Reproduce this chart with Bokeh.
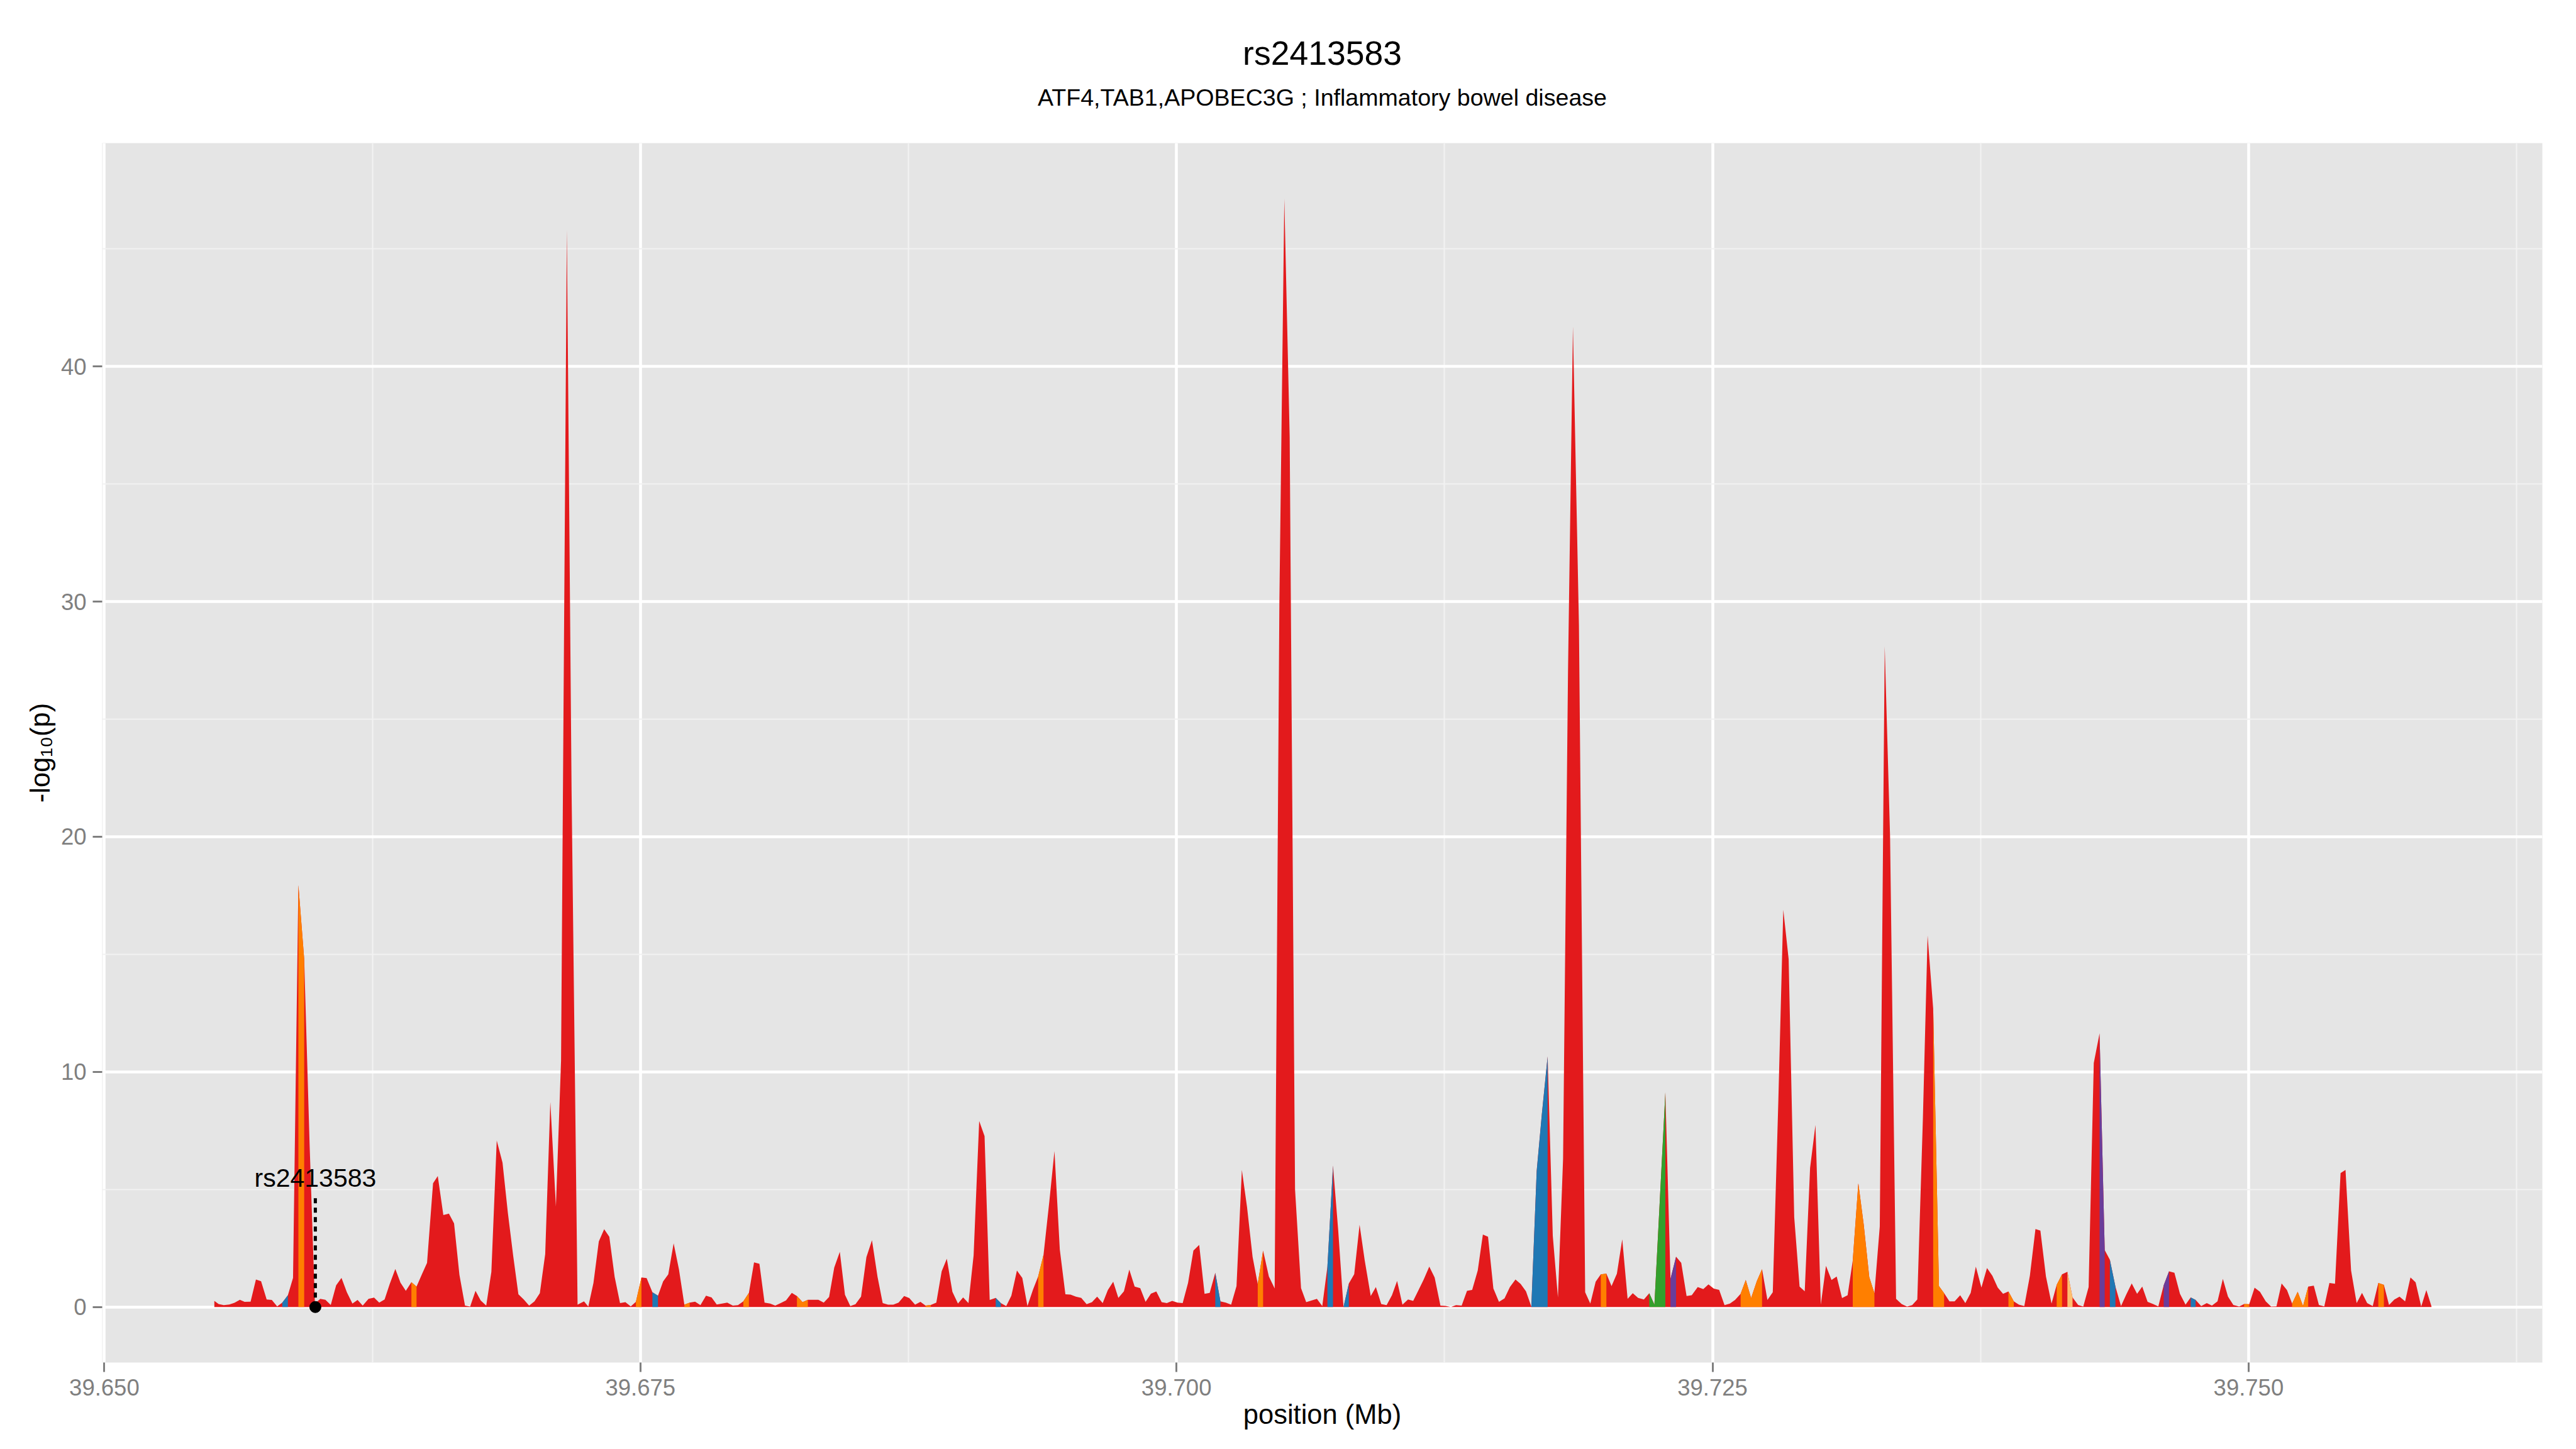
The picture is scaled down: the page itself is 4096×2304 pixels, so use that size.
from bokeh.plotting import figure
from bokeh.models import (ColumnDataSource, FixedTicker, Range1d, Title,
                          NumeralTickFormatter)
from bokeh.embed import file_html
from bokeh.resources import INLINE
from bokeh.core.properties import value

# ---------------- data ----------------
pos = [
    39.65513, 39.65533, 39.65557, 39.65583, 39.65607, 39.65632, 39.65654, 39.65682, 39.65707, 39.65731,
    39.65757, 39.65781, 39.65806, 39.65830, 39.65856, 39.65880, 39.65905, 39.65932, 39.65957, 39.65982,
    39.66007, 39.66031, 39.66056, 39.66081, 39.66106, 39.66131, 39.66157, 39.66181, 39.66205, 39.66232,
    39.66258, 39.66282, 39.66307, 39.66331, 39.66357, 39.66381, 39.66406, 39.66432, 39.66456, 39.66480,
    39.66505, 39.66533, 39.66555, 39.66581, 39.66607, 39.66631, 39.66656, 39.66682, 39.66706, 39.66731,
    39.66755, 39.66781, 39.66805, 39.66830, 39.66857, 39.66882, 39.66907, 39.66931, 39.66956, 39.66981,
    39.67006, 39.67031, 39.67056, 39.67080, 39.67106, 39.67130, 39.67157, 39.67179, 39.67207,
    39.67237, 39.67257, 39.67281, 39.67306, 39.67331, 39.67355, 39.67380, 39.67405, 39.67430, 39.67455,
    39.67479, 39.67505, 39.67529, 39.67556, 39.67582, 39.67606, 39.67630, 39.67655, 39.67680, 39.67705,
    39.67730, 39.67755, 39.67780, 39.67806, 39.67832, 39.67856, 39.67881, 39.67905, 39.67931, 39.67955,
    39.67980, 39.68006, 39.68030, 39.68055, 39.68079, 39.68105, 39.68129, 39.68154, 39.68179, 39.68206,
    39.68230, 39.68256, 39.68281, 39.68305, 39.68330, 39.68355, 39.68380, 39.68404, 39.68430, 39.68454,
    39.68479, 39.68503, 39.68529, 39.68554, 39.68580, 39.68606, 39.68630, 39.68655, 39.68679, 39.68704,
    39.68730, 39.68754, 39.68781, 39.68806, 39.68830, 39.68854, 39.68880, 39.68905, 39.68929, 39.68955,
    39.68981, 39.69005, 39.69030, 39.69054, 39.69080, 39.69105, 39.69129, 39.69157, 39.69181, 39.69206,
    39.69230, 39.69256, 39.69281, 39.69305, 39.69331, 39.69355, 39.69380, 39.69407, 39.69431, 39.69456,
    39.69482, 39.69506, 39.69531, 39.69556, 39.69581, 39.69606, 39.69630, 39.69656, 39.69680, 39.69705,
    39.69729, 39.69755, 39.69780, 39.69805, 39.69831, 39.69856, 39.69881, 39.69906, 39.69931, 39.69955,
    39.69980, 39.70005, 39.70029, 39.70054, 39.70079, 39.70106, 39.70131, 39.70155, 39.70181, 39.70205,
    39.70230, 39.70255, 39.70280, 39.70305, 39.70329, 39.70355, 39.70379, 39.70404, 39.70431, 39.70458,
    39.70480, 39.70503, 39.70528, 39.70553, 39.70581, 39.70605, 39.70631, 39.70655, 39.70680,
    39.70704, 39.70730, 39.70754, 39.70779, 39.70804, 39.70829, 39.70854, 39.70878, 39.70906, 39.70930,
    39.70955, 39.70980, 39.71005, 39.71029, 39.71054, 39.71080, 39.71104, 39.71129, 39.71153, 39.71179,
    39.71204, 39.71231, 39.71255, 39.71280, 39.71304, 39.71330, 39.71355, 39.71379, 39.71405, 39.71429,
    39.71453, 39.71478, 39.71504, 39.71530, 39.71555, 39.71581, 39.71605, 39.71630, 39.71655, 39.71680,
    39.71704, 39.71731, 39.71755, 39.71779, 39.71803, 39.71826, 39.71849, 39.71877, 39.71906, 39.71930,
    39.71955, 39.71979, 39.72005, 39.72029, 39.72054, 39.72079, 39.72104, 39.72128, 39.72153, 39.72180,
    39.72205, 39.72229, 39.72255, 39.72280, 39.72304, 39.72330, 39.72354, 39.72379, 39.72403,
    39.72431, 39.72457, 39.72481, 39.72506, 39.72531, 39.72556, 39.72581, 39.72605, 39.72631, 39.72655,
    39.72680, 39.72707, 39.72731, 39.72756, 39.72781, 39.72807, 39.72830, 39.72855, 39.72881, 39.72906,
    39.72930, 39.72955, 39.72980, 39.73005, 39.73029, 39.73055, 39.73079, 39.73104, 39.73130, 39.73154,
    39.73180, 39.73205, 39.73231, 39.73255, 39.73280, 39.73303, 39.73328, 39.73356, 39.73382, 39.73407,
    39.73431, 39.73455, 39.73481, 39.73503, 39.73529, 39.73556, 39.73580, 39.73605, 39.73629, 39.73655,
    39.73679, 39.73704, 39.73728, 39.73754, 39.73780, 39.73805, 39.73830, 39.73855, 39.73880, 39.73905,
    39.73929, 39.73954, 39.73980, 39.74006, 39.74029, 39.74055, 39.74081, 39.74105, 39.74130,
    39.74155, 39.74179, 39.74205, 39.74229, 39.74254, 39.74278, 39.74305, 39.74329, 39.74353, 39.74379,
    39.74405, 39.74430, 39.74455, 39.74480, 39.74504, 39.74529, 39.74555, 39.74579, 39.74604, 39.74629,
    39.74654, 39.74680, 39.74706, 39.74730, 39.74753, 39.74779, 39.74805, 39.74829, 39.74855, 39.74880,
    39.74904, 39.74929, 39.74956, 39.74979, 39.75003, 39.75028, 39.75053, 39.75080, 39.75105, 39.75130,
    39.75154, 39.75179, 39.75203, 39.75229, 39.75254, 39.75278, 39.75304, 39.75328, 39.75353, 39.75377,
    39.75403, 39.75429, 39.75452, 39.75478, 39.75504, 39.75529, 39.75553, 39.75579, 39.75605, 39.75631,
    39.75655, 39.75680, 39.75704, 39.75730, 39.75755, 39.75779, 39.75805, 39.75829, 39.75853,
]

logp = [
    0.26, 0.13, 0.08, 0.11, 0.18, 0.31, 0.22, 0.23, 1.17, 1.10,
    0.32, 0.30, 0.03, 0.19, 0.50, 1.24, 17.95, 14.80, 7.00, 0.15,
    0.35, 0.31, 0.09, 0.92, 1.24, 0.63, 0.15, 0.30, 0.06, 0.35,
    0.40, 0.19, 0.32, 0.98, 1.62, 1.04, 0.69, 1.06, 0.87, 1.37,
    1.88, 5.26, 5.57, 3.91, 3.97, 3.56, 1.37, 0.06, 0.02, 0.69,
    0.28, 0.06, 1.50, 7.08, 6.14, 4.00, 2.16, 0.54, 0.32, 0.06,
    0.24, 0.59, 2.25, 8.72, 4.27, 10.50, 45.80, 22.00, 0.10,
    0.24, 0.02, 1.02, 2.79, 3.31, 2.99, 1.28, 0.17, 0.21, 0.03,
    0.22, 1.26, 1.23, 0.63, 0.48, 1.09, 1.39, 2.71, 1.59, 0.10,
    0.19, 0.23, 0.08, 0.48, 0.41, 0.11, 0.15, 0.19, 0.06, 0.08,
    0.24, 0.60, 1.90, 1.84, 0.19, 0.15, 0.06, 0.17, 0.28, 0.60,
    0.47, 0.21, 0.31, 0.31, 0.31, 0.19, 0.43, 1.68, 2.35, 0.52,
    0.04, 0.12, 0.44, 2.12, 2.84, 1.28, 0.17, 0.10, 0.10, 0.19,
    0.47, 0.38, 0.10, 0.22, 0.06, 0.09, 0.19, 1.52, 2.05, 0.65,
    0.15, 0.41, 0.17, 2.20, 7.91, 7.27, 0.30, 0.39, 0.17, 0.04,
    0.48, 1.55, 1.24, 0.04, 0.74, 1.30, 2.22, 4.48, 6.63, 2.44,
    0.54, 0.53, 0.44, 0.39, 0.12, 0.21, 0.44, 0.17, 0.72, 1.08,
    0.39, 0.67, 1.59, 0.87, 0.80, 0.22, 0.57, 0.66, 0.21, 0.17,
    0.26, 0.19, 0.17, 1.02, 2.40, 2.64, 0.56, 0.60, 1.46, 0.24,
    0.19, 0.10, 0.89, 5.83, 4.26, 2.13, 0.98, 2.40, 1.30, 0.79,
    30.00, 47.13, 37.00, 5.00, 0.80, 0.21, 0.28, 0.35, 0.04,
    1.72, 6.02, 3.30, 0.00, 1.00, 1.40, 3.50, 1.98, 0.47, 0.85,
    0.13, 0.08, 0.50, 1.11, 0.10, 0.32, 0.26, 0.72, 1.17, 1.72,
    1.26, 0.06, 0.05, 0.00, 0.08, 0.06, 0.69, 0.73, 1.55, 3.08,
    2.99, 0.79, 0.22, 0.37, 0.85, 1.17, 0.98, 0.67, 0.02, 5.79,
    8.20, 10.66, 3.03, 0.41, 6.30, 27.00, 41.70, 29.00, 0.63, 0.15,
    1.08, 1.39, 1.42, 0.89, 1.42, 2.88, 0.35, 0.59, 0.39, 0.32,
    0.59, 0.10, 4.70, 9.13, 1.20, 2.14, 1.88, 0.47, 0.50,
    0.85, 0.76, 0.96, 0.78, 0.73, 0.08, 0.15, 0.30, 0.56, 1.15,
    0.38, 1.11, 1.61, 0.30, 0.63, 8.80, 16.90, 14.80, 3.82, 0.87,
    0.67, 5.92, 7.74, 0.10, 1.75, 1.15, 1.30, 0.38, 0.50, 1.98,
    5.26, 3.51, 1.27, 0.59, 3.43, 28.10, 20.00, 0.35, 0.13, 0.02,
    0.08, 0.32, 8.00, 15.80, 12.70, 0.89, 0.59, 0.24, 0.24, 0.50,
    0.17, 0.60, 1.72, 0.83, 1.66, 1.33, 0.83, 0.56, 0.66, 0.24,
    0.10, 0.04, 1.33, 3.32, 3.25, 1.30, 0.15, 0.94, 1.39,
    1.50, 0.41, 0.09, 0.02, 0.85, 10.38, 11.64, 2.42, 2.01, 0.87,
    0.04, 0.54, 1.00, 0.56, 0.87, 0.22, 0.13, 0.03, 0.92, 1.52,
    1.46, 0.56, 0.10, 0.41, 0.30, 0.04, 0.17, 0.06, 0.24, 1.20,
    0.44, 0.09, 0.02, 0.13, 0.12, 0.82, 0.65, 0.24, 0.02, 0.03,
    1.00, 0.72, 0.15, 0.65, 0.04, 0.87, 0.91, 0.09, 0.03, 1.02,
    0.99, 5.70, 5.83, 1.55, 0.17, 0.60, 0.17, 0.04, 1.02, 0.94,
    0.09, 0.32, 0.44, 0.24, 1.26, 1.05, 0.02, 0.72, 0.03,
]

# LD group of the stretch that starts at each position (default "c0")
group_starts = {
    "c1": [39.65905, 39.66432, 39.67479, 39.67705, 39.67980, 39.68230, 39.68256, 39.68830,
           39.69355, 39.70379, 39.71979, 39.72631, 39.72655, 39.72680, 39.72707, 39.73154,
           39.73180, 39.73205, 39.73231, 39.73529, 39.73556, 39.73880, 39.74105, 39.74979,
           39.75203, 39.75229, 39.75254, 39.75605],
    "c2": [39.65830, 39.67556, 39.69157, 39.70181, 39.70704, 39.70779, 39.71655, 39.71680,
           39.71704, 39.74353, 39.74730],
    "c3": [39.72205, 39.72229, 39.72255],
    "c4": [39.72304, 39.74305, 39.74604],
    "c5": [39.74155],
}

snp_name = "rs2413583"
snp_pos = 39.65984
title_text = "rs2413583"
subtitle_text = "ATF4,TAB1,APOBEC3G ; Inflammatory bowel disease"
x_ticks = [39.650, 39.675, 39.700, 39.725, 39.750]
x_minor = [39.6375, 39.6625, 39.6875, 39.7125, 39.7375, 39.7625]
y_ticks = [0, 10, 20, 30, 40]
y_minor = [-5, 5, 15, 25, 35, 45]

# ---------------- styling ----------------
palette = {"c0": "#E31A1C", "c1": "#FF7F00", "c2": "#1F78B4",
           "c3": "#33A02C", "c4": "#6A3D9A", "c5": "#FDBF6F"}
FONT = "Liberation Sans"

grp = ["c0"] * len(pos)
lookup = {round(v, 5): k for k, vs in group_starts.items() for v in vs}
for i, xv in enumerate(pos):
    if round(xv, 5) in lookup:
        grp[i] = lookup[round(xv, 5)]

W, H = 4096, 2304
p = figure(width=W, height=H, output_backend="svg", toolbar_location=None,
           x_range=Range1d(39.6499, 39.7637), y_range=Range1d(-2.36, 49.5),
           min_border_left=162, min_border_right=54, min_border_top=227,
           min_border_bottom=138, background_fill_color="#E5E5E5",
           border_fill_color="white", outline_line_color=None)
p.title = None

# base area
p.varea(x=pos, y1=[0] * len(pos), y2=logp, fill_color=palette["c0"])

# coloured stretches
xs_list, ys_list, cols = [], [], []
n = len(pos)
i = 0
while i < n - 1:
    g = grp[i]
    if g == "c0":
        i += 1
        continue
    j = i
    while j + 1 < n - 1 and grp[j + 1] == g:
        j += 1
    xs_list.append([pos[i]] + pos[i:j + 2] + [pos[j + 1]])
    ys_list.append([0] + logp[i:j + 2] + [0])
    cols.append(palette[g])
    i = j + 1
src = ColumnDataSource(dict(xs=xs_list, ys=ys_list, c=cols))
p.patches(xs="xs", ys="ys", fill_color="c", line_color=None, source=src)

# SNP annotation
p.segment(x0=[snp_pos], y0=[0], x1=[snp_pos], y1=[4.71], line_color="black",
          line_width=5, line_dash="8 7")
p.scatter(x=[snp_pos], y=[0], size=18, fill_color="black", line_color="black")
p.text(x=[snp_pos], y=[5.50], text=[snp_name], text_align="center",
       text_baseline="alphabetic", text_font=value(FONT), text_font_size="41px",
       text_color="black")

# axes / grid
for ax, ticks, minor in ((p.xaxis[0], x_ticks, x_minor), (p.yaxis[0], y_ticks, y_minor)):
    ax.ticker = FixedTicker(ticks=ticks, minor_ticks=minor)
    ax.axis_line_color = None
    ax.major_tick_line_color = "#7F7F7F"
    ax.major_tick_line_width = 3
    ax.major_tick_out = 15
    ax.major_tick_in = 0
    ax.minor_tick_line_color = None
    ax.major_label_text_color = "#7F7F7F"
    ax.major_label_text_font = FONT
    ax.major_label_text_font_size = "36.5px"
    ax.axis_label_text_font = FONT
    ax.axis_label_text_font_size = "43.5px"
    ax.axis_label_text_font_style = "normal"
    ax.axis_label_text_color = "black"

p.xaxis[0].formatter = NumeralTickFormatter(format="0.000")
p.xaxis[0].axis_label = "position (Mb)"
p.yaxis[0].axis_label = "-log\u2081\u2080(p)"
p.xaxis[0].major_label_standoff = 11
p.yaxis[0].major_label_standoff = 10
p.xaxis[0].axis_label_standoff = 3
p.yaxis[0].axis_label_standoff = 6

p.xgrid.ticker = FixedTicker(ticks=x_ticks, minor_ticks=x_minor)
p.ygrid.ticker = FixedTicker(ticks=y_ticks, minor_ticks=y_minor)
for gr in (p.xgrid[0], p.ygrid[0]):
    gr.grid_line_color = "white"
    gr.grid_line_width = 4.5
    gr.minor_grid_line_color = "#F2F2F2"
    gr.minor_grid_line_width = 2.2

# titles: a thin empty spacer next to the panel, then subtitle, then title
p.add_layout(Title(text=" ", text_font_size="1px", standoff=44, align="center"), "above")
p.add_layout(Title(text=subtitle_text, align="center", text_font=FONT,
                   text_font_size="37.6px", text_font_style="normal",
                   text_color="black", standoff=10), "above")
p.add_layout(Title(text=title_text, align="center", text_font=FONT,
                   text_font_size="53.5px", text_font_style="normal",
                   text_color="black", standoff=25), "above")

open("out.html", "w").write(file_html(p, INLINE))
